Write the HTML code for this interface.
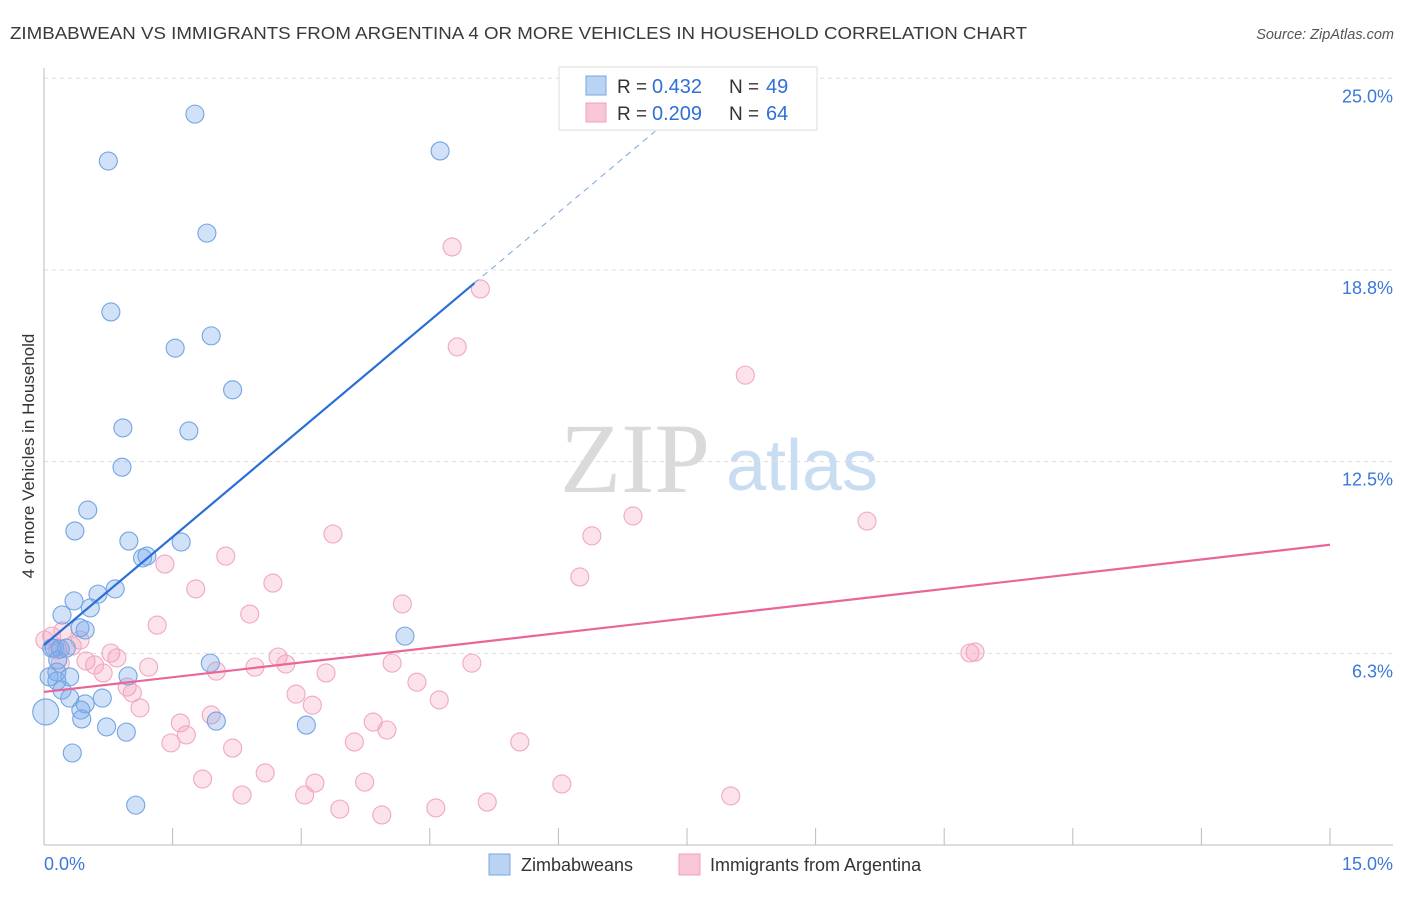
<!DOCTYPE html>
<html><head><meta charset="utf-8"><style>
body{margin:0;background:#fff;}
svg text{font-family:"Liberation Sans",sans-serif;}
svg text.serif{font-family:"Liberation Serif",serif;}
</style></head><body>
<svg id="chart" width="1406" height="892" xmlns="http://www.w3.org/2000/svg">
<text x="10" y="39" font-size="17.5" fill="#3a3a3a" textLength="1017" lengthAdjust="spacingAndGlyphs">ZIMBABWEAN VS IMMIGRANTS FROM ARGENTINA 4 OR MORE VEHICLES IN HOUSEHOLD CORRELATION CHART</text>
<text x="1394" y="39" font-size="14.5" fill="#555" text-anchor="end" font-style="italic">Source: ZipAtlas.com</text>
<g>
<text class="serif" x="635" y="492" font-size="100" fill="#dadada" text-anchor="middle">ZIP</text>
<text x="802" y="490" font-size="72" fill="#c8dcf2" text-anchor="middle">atlas</text>
</g>
<g id="grid"></g>
<g id="axes"></g>
<g id="pts"></g>
<g id="trends"></g>
<text transform="translate(34,456) rotate(-90)" font-size="17" fill="#333" text-anchor="middle">4 or more Vehicles in Household</text>
<g>
<rect x="559" y="67" width="258" height="63" fill="#fff" stroke="#ddd"/>
<rect x="586" y="76" width="20" height="19" fill="#b9d3f3" stroke="#7aa6e0"/>
<rect x="586" y="103" width="20" height="19" fill="#f8c6d5" stroke="#eda2ba"/>
<text x="617" y="93" font-size="19" fill="#333">R = </text>
<text x="652" y="93" font-size="20" fill="#2f6fd6">0.432</text>
<text x="729" y="93" font-size="19" fill="#333">N = </text>
<text x="766" y="93" font-size="20" fill="#2f6fd6">49</text>
<text x="617" y="120" font-size="19" fill="#333">R = </text>
<text x="652" y="120" font-size="20" fill="#2f6fd6">0.209</text>
<text x="729" y="120" font-size="19" fill="#333">N = </text>
<text x="766" y="120" font-size="20" fill="#2f6fd6">64</text>
</g>
<g>
<rect x="489" y="854" width="21" height="21" fill="#b9d3f3" stroke="#7aa6e0"/>
<text x="521" y="871" font-size="18" fill="#333">Zimbabweans</text>
<rect x="679" y="854" width="21" height="21" fill="#f8c6d5" stroke="#eda2ba"/>
<text x="710" y="871" font-size="18" fill="#333">Immigrants from Argentina</text>
</g>
</svg>
<script>
const yTicks=[6.25,12.5,18.75,25];
const yTickLabels=["6.3%","12.5%","18.8%","25.0%"];
const xTickCount=10;
const blueX=[1.76,0.75,4.62,1.90,0.78,1.53,1.95,2.20,0.92,1.69,0.91,0.51,0.36,0.99,1.60,1.20,1.15,0.83,0.63,0.35,0.54,0.21,0.42,0.48,0.12,0.26,0.19,0.09,4.21,1.94,0.15,0.98,0.30,0.15,0.21,0.30,0.68,0.48,0.43,0.02,0.44,2.01,0.73,3.06,0.96,0.33,1.07,0.16,0.06];
const blueY=[23.83,22.30,22.63,19.95,17.38,16.20,16.60,14.84,13.60,13.50,12.32,10.92,10.24,9.91,9.88,9.42,9.36,8.35,8.18,7.96,7.73,7.50,7.08,7.01,6.42,6.42,6.39,6.42,6.81,5.93,5.64,5.51,5.48,5.35,5.05,4.79,4.79,4.60,4.40,4.34,4.11,4.04,3.85,3.91,3.68,3.00,1.30,6.03,5.48];
const pinkX=[4.76,5.09,4.82,8.18,6.87,9.60,3.37,6.39,2.12,1.41,6.25,2.67,1.77,4.18,2.40,1.32,0.09,0.22,0.42,0.33,0.01,0.78,0.85,2.73,0.49,1.22,2.46,2.82,4.06,4.99,10.80,10.86,0.59,0.69,2.01,3.29,4.35,0.97,1.03,2.94,4.61,1.12,3.13,1.59,1.95,3.84,4.00,1.66,1.48,3.62,5.55,2.20,2.58,1.85,3.16,3.74,6.04,2.31,3.04,8.01,5.17,3.45,4.57,3.94,0.19,0.16];
const pinkY=[19.50,18.13,16.24,15.32,10.73,10.56,10.14,10.08,9.42,9.16,8.74,8.54,8.35,7.86,7.53,7.17,6.81,6.98,6.68,6.49,6.68,6.26,6.10,6.13,6.00,5.80,5.80,5.90,5.93,5.93,6.26,6.29,5.87,5.61,5.67,5.61,5.31,5.15,4.96,4.92,4.73,4.47,4.56,3.98,4.24,4.01,3.75,3.59,3.33,3.36,3.36,3.16,2.35,2.15,2.02,2.05,1.99,1.63,1.63,1.60,1.40,1.17,1.21,0.98,5.93,6.36];
const blueTrend=[6.52,2.35];  // intercept, slope
const pinkTrend=[4.99,0.32];
const NS="http://www.w3.org/2000/svg";
const X0=44,X1=1330,Y0=845,PXY=30.67;
const sx=v=>X0+v*(X1-X0)/15;
const sy=v=>Y0-v*PXY;
function mk(tag,attrs,parent){const e=document.createElementNS(NS,tag);for(const k in attrs)e.setAttribute(k,attrs[k]);parent.appendChild(e);return e;}
const grid=document.getElementById('grid'),axes=document.getElementById('axes');
yTicks.forEach((t,i)=>{
 const l=mk('line',{x1:X0,x2:1393,y1:sy(t),y2:sy(t),stroke:'#ddd','stroke-dasharray':'4,4'},grid);
 
 
 const tx=mk('text',{x:1393,y:sy(t)+24,'font-size':18,fill:'#3b78d8','text-anchor':'end'},axes);
 tx.textContent=yTickLabels[i];
 
 
});
mk('line',{x1:X0,x2:X0,y1:68,y2:Y0,stroke:'#bbb'},axes);
mk('line',{x1:X0,x2:1393,y1:Y0,y2:Y0,stroke:'#bbb'},axes);
for(let i=0;i<=xTickCount;i++){
 const t=mk('line',{x1:sx(i*1.5),x2:sx(i*1.5),y1:828,y2:Y0,stroke:'#bbb'},axes);
 
 
}
const xl=mk('text',{x:44,y:870,'font-size':18,fill:'#3b78d8'},axes);xl.textContent='0.0%';


const xr=mk('text',{x:1393,y:870,'font-size':18,fill:'#3b78d8','text-anchor':'end'},axes);xr.textContent='15.0%';


const pts=document.getElementById('pts');
pinkX.forEach((x,i)=>{
 const c=mk('circle',{cx:sx(x),cy:sy(pinkY[i]),r:9,fill:'rgba(244,160,190,0.3)',stroke:'#f0a8c0','stroke-width':1.1},pts);
 
 
});
blueX.forEach((x,i)=>{
 const c=mk('circle',{cx:sx(x),cy:sy(blueY[i]),r:i==39?13:9,fill:'rgba(120,170,235,0.35)',stroke:'#74a4e2','stroke-width':1.1},pts);
 
 
});
const tr=document.getElementById('trends');
const bEnd=5.02,bDash=7.13;
const b1=mk('line',{x1:sx(0),y1:sy(blueTrend[0]),x2:sx(bEnd),y2:sy(blueTrend[0]+blueTrend[1]*bEnd),stroke:'#2a6fd6','stroke-width':2.2},tr);


const b2=mk('line',{x1:sx(bEnd),y1:sy(blueTrend[0]+blueTrend[1]*bEnd),x2:sx(bDash),y2:sy(blueTrend[0]+blueTrend[1]*bDash),stroke:'#7aa6e0','stroke-width':1,'stroke-dasharray':'6,5'},tr);


const p1=mk('line',{x1:sx(0),y1:sy(pinkTrend[0]),x2:sx(15),y2:sy(pinkTrend[0]+pinkTrend[1]*15),stroke:'#e8669a','stroke-width':2.2},tr);


</script>
</body></html>
